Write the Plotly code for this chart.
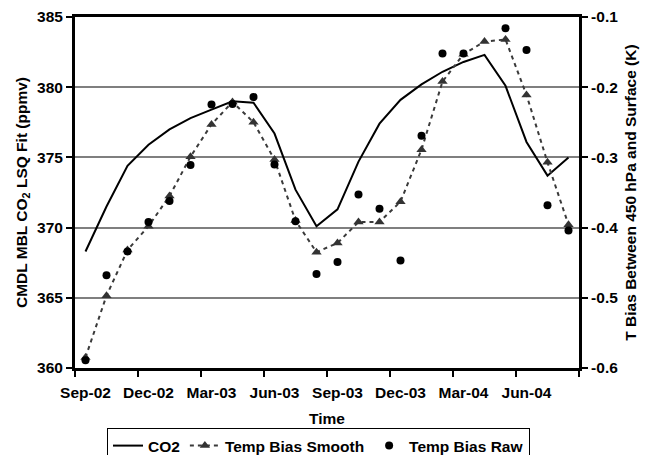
import plotly.graph_objects as go

months = ["Sep-02", "Oct-02", "Nov-02", "Dec-02", "Jan-03", "Feb-03", "Mar-03", "Apr-03",
          "May-03", "Jun-03", "Jul-03", "Aug-03", "Sep-03", "Oct-03", "Nov-03", "Dec-03",
          "Jan-04", "Feb-04", "Mar-04", "Apr-04", "May-04", "Jun-04", "Jul-04", "Aug-04"]

co2 = [368.3, 371.5, 374.4, 375.9, 377.0, 377.8, 378.4, 379.0, 378.9, 376.7, 372.7, 370.1,
       371.3, 374.7, 377.4, 379.1, 380.2, 381.1, 381.8, 382.3, 380.1, 376.1, 373.7, 375.0]

temp_smooth = [-0.585, -0.497, -0.432, -0.398, -0.355, -0.299, -0.253, -0.221, -0.250, -0.303,
               -0.390, -0.435, -0.422, -0.392, -0.392, -0.363, -0.289, -0.192, -0.153, -0.135,
               -0.132, -0.211, -0.307, -0.396]

temp_raw = [-0.589, -0.468, -0.434, -0.392, -0.362, -0.311, -0.2245, -0.224, -0.214, -0.310,
            -0.391, -0.466, -0.449, -0.353, -0.373, -0.447, -0.269, -0.152, -0.152, None,
            -0.116, -0.147, -0.368, -0.404]

x_labels = ["Sep-02", "Dec-02", "Mar-03", "Jun-03", "Sep-03", "Dec-03", "Mar-04", "Jun-04"]
left_ticks = [360, 365, 370, 375, 380, 385]
right_ticks = [-0.6, -0.5, -0.4, -0.3, -0.2, -0.1]
right_ticktext = ["-0.6", "-0.5", "-0.4", "-0.3", "-0.2", "-0.1"]

x = list(range(len(months)))
label_pos = [months.index(m) for m in x_labels]
boundary_pos = [p - 0.5 for p in label_pos] + [len(months) - 0.5]

FONT = "Liberation Sans, Arial, sans-serif"
FS = 15.5
bold = dict(family=FONT, size=FS, color="black", weight="bold")

fig = go.Figure()
fig.add_trace(go.Scatter(
    x=x, y=co2, name="CO2", mode="lines",
    line=dict(color="black", width=2),
    xaxis="x", yaxis="y"))
fig.add_trace(go.Scatter(
    x=x, y=temp_smooth, name="Temp Bias Smooth", mode="lines+markers",
    line=dict(color="#3a3a3a", width=2, dash="4px,4px"),
    marker=dict(symbol="triangle-up", size=9, color="#333333"),
    xaxis="x", yaxis="y2"))
fig.add_trace(go.Scatter(
    x=x, y=temp_raw, name="Temp Bias Raw", mode="markers",
    marker=dict(symbol="circle", size=8, color="black"),
    xaxis="x", yaxis="y2"))

fig.update_layout(
    width=645, height=455,
    margin=dict(l=75, r=66, t=17, b=87, autoexpand=False),
    paper_bgcolor="white", plot_bgcolor="white",
    font=dict(family=FONT, size=FS, color="black"),
    showlegend=True,
    legend=dict(
        orientation="h", x=0.0635, xanchor="left", y=-0.171, yanchor="top",
        bordercolor="black", borderwidth=1, bgcolor="white",
        font=bold, itemwidth=30, tracegroupgap=0,
    ),
    xaxis=dict(
        range=[-0.5, len(months) - 0.5],
        tickmode="array", tickvals=label_pos, ticktext=x_labels,
        ticks="", showgrid=False, zeroline=False, ticklabelstandoff=8,
        showline=True, linecolor="black", linewidth=3, mirror=True,
        tickfont=bold,
        minor=dict(tickmode="array", tickvals=boundary_pos, ticks="outside",
                   ticklen=6, tickwidth=2, tickcolor="black", showgrid=False),
        title=dict(text="Time", font=bold, standoff=14),
    ),
    yaxis=dict(
        range=[360, 385], tickmode="array", tickvals=left_ticks,
        ticks="outside", ticklen=6, tickwidth=2, tickcolor="black",
        showgrid=True, gridcolor="#7f7f7f", gridwidth=1.5, zeroline=False,
        showline=True, linecolor="black", linewidth=3,
        tickfont=bold,
        title=dict(text="CMDL MBL CO<sub>2</sub> LSQ Fit (ppmv)", font=bold, standoff=6),
    ),
    yaxis2=dict(
        range=[-0.6, -0.1], overlaying="y", side="right", anchor="x",
        tickmode="array", tickvals=right_ticks, ticktext=right_ticktext,
        ticks="outside", ticklen=6, tickwidth=2, tickcolor="black",
        showgrid=False, zeroline=False,
        showline=True, linecolor="black", linewidth=3,
        tickfont=bold,
        title=dict(text="T Bias Between 450 hPa and Surface (K)", font=bold, standoff=8),
    ),
)

fig.write_html("out.html")
